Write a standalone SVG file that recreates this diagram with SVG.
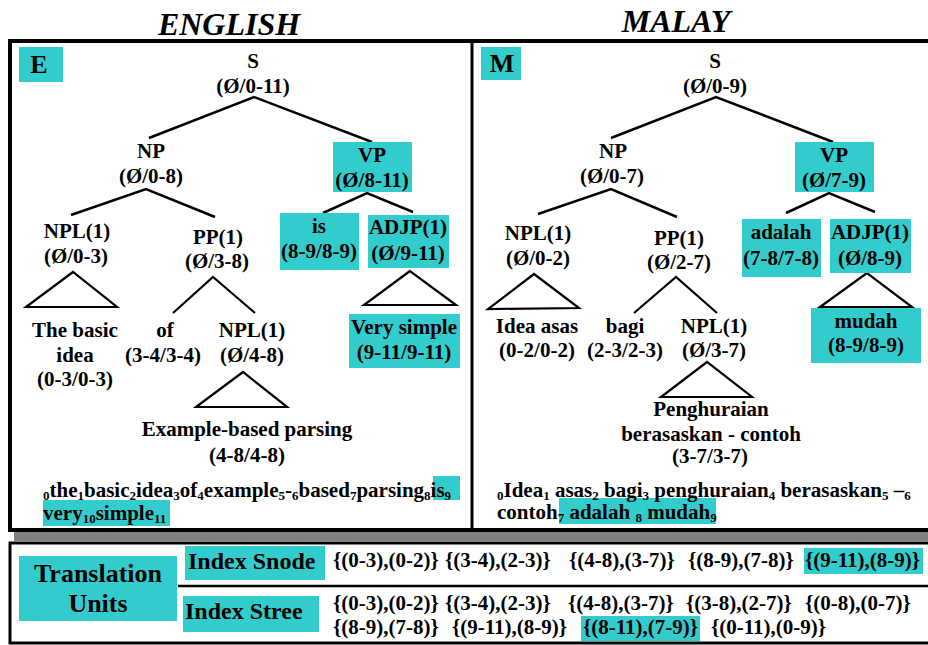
<svg xmlns="http://www.w3.org/2000/svg" width="928" height="645" viewBox="0 0 928 645">
<style>
text{font-family:"Liberation Serif","Times New Roman",serif;font-weight:bold;fill:#000;font-size:21px}
.c{text-anchor:middle}
.t{font-size:32px;font-style:italic}
.big{font-size:26px}
.idx{font-size:24px}
.s{font-size:13px}
.hl{fill:#33CCCC}
.ln{stroke:#000;stroke-width:2.5;fill:none}
.tri{stroke:#000;stroke-width:2.2;fill:none}
.frame{stroke:#000;fill:none}
</style>
<rect width="928" height="645" fill="#fff"/>
<!-- titles -->
<text class="t c" x="229" y="35">ENGLISH</text>
<text class="t c" x="676" y="32">MALAY</text>
<!-- frames -->
<rect x="14" y="532" width="920" height="9" fill="#808080"/>
<rect class="frame" x="10" y="41" width="924" height="489" stroke-width="4"/>
<line class="frame" x1="472" y1="41" x2="472" y2="530" stroke-width="3"/>
<rect class="frame" x="10" y="543" width="924" height="100" stroke-width="3"/>
<line class="frame" x1="178" y1="586" x2="928" y2="586" stroke-width="2.5"/>

<!-- connectors -->
<g id="connectors">
<polyline class="ln" points="149,138 254,97 372,142"/>
<polyline class="ln" points="71,215 146,189 215,217"/>
<polyline class="ln" points="323,213 367,193 413,212"/>
<polygon class="tri" points="73,272 26,307 117,307"/>
<polyline class="tri" points="173,313 213,277 255,313"/>
<polygon class="tri" points="410,271 364,305 456,305"/>
<polygon class="tri" points="243,372 196,407 287,407"/>
<polyline class="ln" points="611,138 716,97 833,142"/>
<polyline class="ln" points="538,214 611,189 677,217"/>
<polyline class="ln" points="786,213 829,193 875,212"/>
<polygon class="tri" points="534,274 488,309 579,308"/>
<polyline class="tri" points="634,313 676,277 717,313"/>
<polygon class="tri" points="867,273 820,307 912,307"/>
<polygon class="tri" points="707,362 661,397 752,397"/>
</g>

<!-- English tree -->
<g id="E-label"><rect class="hl" x="19" y="47" width="44" height="35"/><text class="big c" x="39" y="73">E</text></g>
<g id="E-S"><text class="c" x="253" y="68">S</text><text class="c" x="253" y="93">(Ø/0-11)</text></g>
<g id="E-NP"><text class="c" x="151" y="158">NP</text><text class="c" x="151" y="183">(Ø/0-8)</text></g>
<g id="E-VP"><rect class="hl" x="333" y="142" width="79" height="50"/><text class="c" x="372" y="162">VP</text><text class="c" x="372" y="187">(Ø/8-11)</text></g>
<g id="E-NPL1"><text class="c" x="77" y="238">NPL(1)</text><text class="c" x="76" y="263">(Ø/0-3)</text></g>
<g id="E-PP1"><text class="c" x="218" y="244">PP(1)</text><text class="c" x="217" y="268">(Ø/3-8)</text></g>
<g id="E-is"><rect class="hl" x="280" y="213" width="79" height="57"/><text class="c" x="319" y="233">is</text><text class="c" x="319" y="258">(8-9/8-9)</text></g>
<g id="E-ADJP"><rect class="hl" x="368" y="215" width="81" height="53"/><text class="c" x="408" y="234">ADJP(1)</text><text class="c" x="408" y="260">(Ø/9-11)</text></g>
<g id="E-basic"><text class="c" x="75" y="337">The basic</text><text class="c" x="75" y="362">idea</text><text class="c" x="75" y="386">(0-3/0-3)</text></g>
<g id="E-of"><text class="c" x="165" y="337">of</text><text class="c" x="163" y="362">(3-4/3-4)</text></g>
<g id="E-NPL1b"><text class="c" x="252" y="337">NPL(1)</text><text class="c" x="252" y="362">(Ø/4-8)</text></g>
<g id="E-verysimple"><rect class="hl" x="349" y="314" width="111" height="54"/><text class="c" x="404" y="334">Very simple</text><text class="c" x="404" y="359">(9-11/9-11)</text></g>
<g id="E-ebp"><text class="c" x="247" y="436">Example-based parsing</text><text class="c" x="247" y="462">(4-8/4-8)</text></g>
<g id="E-sentence">
<rect class="hl" x="433" y="476" width="27" height="24"/>
<rect class="hl" x="43" y="500" width="127" height="26"/>
<text x="43" y="497"><tspan class="s" dy="3">0</tspan><tspan dy="-3">the</tspan><tspan class="s" dy="3">1</tspan><tspan dy="-3">basic</tspan><tspan class="s" dy="3">2</tspan><tspan dy="-3">idea</tspan><tspan class="s" dy="3">3</tspan><tspan dy="-3">of</tspan><tspan class="s" dy="3">4</tspan><tspan dy="-3">example</tspan><tspan class="s" dy="3">5</tspan><tspan dy="-3">-</tspan><tspan class="s" dy="3">6</tspan><tspan dy="-3">based</tspan><tspan class="s" dy="3">7</tspan><tspan dy="-3">parsing</tspan><tspan class="s" dy="3">8</tspan><tspan dy="-3">is</tspan><tspan class="s" dy="3">9</tspan></text>
<text x="43" y="520">very<tspan class="s" dy="3">10</tspan><tspan dy="-3">simple</tspan><tspan class="s" dy="3">11</tspan></text>
</g>

<!-- Malay tree -->
<g id="M-label"><rect class="hl" x="481" y="47" width="40" height="33"/><text class="big c" x="502" y="72">M</text></g>
<g id="M-S"><text class="c" x="715" y="68">S</text><text class="c" x="715" y="93">(Ø/0-9)</text></g>
<g id="M-NP"><text class="c" x="613" y="158">NP</text><text class="c" x="612" y="183">(Ø/0-7)</text></g>
<g id="M-VP"><rect class="hl" x="795" y="142" width="79" height="50"/><text class="c" x="834" y="162">VP</text><text class="c" x="834" y="187">(Ø/7-9)</text></g>
<g id="M-NPL1"><text class="c" x="538" y="240">NPL(1)</text><text class="c" x="538" y="265">(Ø/0-2)</text></g>
<g id="M-PP1"><text class="c" x="679" y="245">PP(1)</text><text class="c" x="679" y="269">(Ø/2-7)</text></g>
<g id="M-adalah"><rect class="hl" x="742" y="219" width="79" height="58"/><text class="c" x="781" y="239">adalah</text><text class="c" x="781" y="265">(7-8/7-8)</text></g>
<g id="M-ADJP"><rect class="hl" x="830" y="219" width="81" height="54"/><text class="c" x="870" y="239">ADJP(1)</text><text class="c" x="870" y="265">(Ø/8-9)</text></g>
<g id="M-ideaasas"><text class="c" x="537" y="333">Idea asas</text><text class="c" x="537" y="357">(0-2/0-2)</text></g>
<g id="M-bagi"><text class="c" x="625" y="333">bagi</text><text class="c" x="625" y="357">(2-3/2-3)</text></g>
<g id="M-NPL1b"><text class="c" x="714" y="333">NPL(1)</text><text class="c" x="714" y="357">(Ø/3-7)</text></g>
<g id="M-mudah"><rect class="hl" x="811" y="308" width="110" height="55"/><text class="c" x="866" y="328">mudah</text><text class="c" x="866" y="352">(8-9/8-9)</text></g>
<g id="M-peng"><text class="c" x="711" y="416">Penghuraian</text><text class="c" x="711" y="441">berasaskan - contoh</text><text class="c" x="710" y="463">(3-7/3-7)</text></g>
<g id="M-sentence">
<rect class="hl" x="559" y="498" width="157" height="26"/>
<text x="497" y="497"><tspan class="s" dy="3">0</tspan><tspan dy="-3">Idea</tspan><tspan class="s" dy="3">1</tspan><tspan dy="-3"> asas</tspan><tspan class="s" dy="3">2</tspan><tspan dy="-3"> bagi</tspan><tspan class="s" dy="3">3</tspan><tspan dy="-3"> penghuraian</tspan><tspan class="s" dy="3">4</tspan><tspan dy="-3"> berasaskan</tspan><tspan class="s" dy="3">5</tspan><tspan dy="-3"> –</tspan><tspan class="s" dy="3">6</tspan></text>
<text x="497" y="519">contoh<tspan class="s" dy="3">7</tspan><tspan dy="-3"> adalah </tspan><tspan class="s" dy="3">8</tspan><tspan dy="-3"> mudah</tspan><tspan class="s" dy="3">9</tspan></text>
</g>

<!-- Translation units -->
<g id="TU"><rect class="hl" x="19" y="556" width="158" height="65"/><text class="big c" x="98" y="582">Translation</text><text class="big c" x="98" y="612">Units</text></g>
<g id="snode-label"><rect class="hl" x="185" y="546" width="140" height="34"/><text class="idx" x="188" y="569">Index Snode</text></g>
<g id="stree-label"><rect class="hl" x="183" y="596" width="136" height="36"/><text class="idx" x="185" y="619">Index Stree</text></g>
<g id="snode-sets">
<rect class="hl" x="804" y="548" width="119" height="26"/>
<text x="333" y="567">{(0-3),(0-2)}</text>
<text x="445" y="567">{(3-4),(2-3)}</text>
<text x="569" y="567">{(4-8),(3-7)}</text>
<text x="688" y="567">{(8-9),(7-8)}</text>
<text x="805" y="567">{(9-11),(8-9)}</text>
</g>
<g id="stree-sets">
<rect class="hl" x="581" y="616" width="119" height="25"/>
<text x="333" y="610">{(0-3),(0-2)}</text>
<text x="445" y="610">{(3-4),(2-3)}</text>
<text x="568" y="610">{(4-8),(3-7)}</text>
<text x="686" y="610">{(3-8),(2-7)}</text>
<text x="805" y="610">{(0-8),(0-7)}</text>
<text x="333" y="634">{(8-9),(7-8)}</text>
<text x="452" y="634">{(9-11),(8-9)}</text>
<text x="583" y="634">{(8-11),(7-9)}</text>
<text x="711" y="634">{(0-11),(0-9)}</text>
</g>
</svg>
